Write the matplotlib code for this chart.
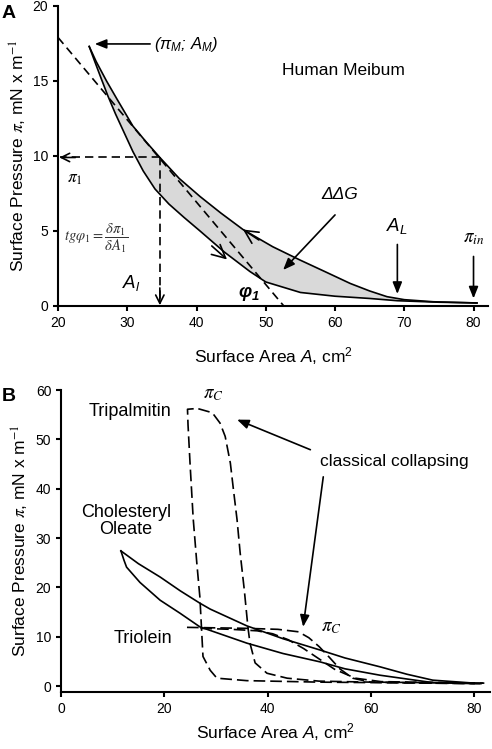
import matplotlib
matplotlib.use("Agg")
import matplotlib.pyplot as plt

plt.rcParams['font.family'] = ['Liberation Sans', 'DejaVu Sans']
plt.rcParams['mathtext.fontset'] = 'custom'
plt.rcParams['mathtext.rm'] = 'Liberation Sans'
plt.rcParams['mathtext.it'] = 'Liberation Sans:italic'
plt.rcParams['mathtext.bf'] = 'Liberation Sans:bold'
plt.rcParams['mathtext.bfit'] = 'Liberation Sans:italic:bold'

# panel A - human meibum isotherm (compression / expansion loop)
meib_lower_A = [24.5, 25.3, 26.2, 27.2, 28.3, 29.5, 30.8, 32.3, 34.0, 36.0, 38.2, 40.5,
                44.0, 47.7, 50.0, 55.0, 60.0, 65.0, 69.0, 75.0, 80.5]
meib_lower_pi = [17.3, 16.3, 15.2, 14.0, 12.8, 11.6, 10.3, 9.0, 7.8, 6.8, 5.9, 5.0,
                 3.6, 2.3, 1.6, 0.9, 0.65, 0.5, 0.35, 0.25, 0.2]
meib_upper_A = [24.5, 25.5, 27.0, 28.5, 30.8, 32.7, 34.7, 37.5, 40.5, 43.5, 46.7, 51.0, 55.0,
                58.5, 62.2, 65.0, 67.5, 70.0, 74.2, 80.5]
meib_upper_pi = [17.3, 16.3, 15.0, 13.8, 12.0, 10.95, 9.9, 8.5, 7.3, 6.2, 5.1, 3.95, 3.05,
                 2.3, 1.5, 1.0, 0.62, 0.42, 0.28, 0.2]
tangent_A = [20.0, 52.6]
tangent_pi = [17.9, 0.0]
A1, pi1 = 34.7, 9.9
A_L, A_in = 69.0, 80.0

# panel B - pure lipids
tripalm1_A = [25.7, 24.5, 24.6, 25.0, 25.6, 26.3, 26.9, 27.3, 27.5, 28.9, 30.2, 36.0, 50.0, 82.0]
tripalm1_pi = [56.2, 56.1, 53.0, 45.0, 34.0, 25.0, 18.0, 10.0, 6.0, 3.2, 1.6, 1.1, 0.8, 0.5]
tripalm2_A = [26.6, 29.3, 30.8, 31.8, 32.8, 33.4, 34.1, 34.7, 35.5, 36.2, 36.6, 37.6, 39.9,
              43.8, 50.0, 60.0, 82.0]
tripalm2_pi = [56.2, 55.4, 53.3, 50.6, 45.2, 39.8, 33.7, 27.0, 19.5, 12.0, 8.7, 4.7, 2.6,
               1.6, 1.0, 0.8, 0.6]
triolein1_A = [24.4, 30.0, 36.0, 42.0, 46.0, 48.0, 50.0, 52.0, 54.0, 56.5, 60.0, 70.0, 82.0]
triolein1_pi = [11.9, 11.8, 11.7, 11.5, 11.0, 9.8, 8.0, 5.8, 3.5, 1.6, 0.8, 0.6, 0.5]
triolein2_A = [27.0, 33.0, 38.0, 41.0, 44.0, 47.0, 50.0, 53.0, 57.0, 62.0, 82.0]
triolein2_pi = [11.7, 11.5, 11.2, 10.6, 9.4, 7.6, 5.5, 3.4, 1.6, 0.9, 0.6]
chol_upper_A = [11.6, 15.0, 19.2, 23.1, 26.9, 28.9, 36.0, 43.0, 50.2, 55.0, 61.8, 67.0, 72.0, 80.0]
chol_upper_pi = [27.4, 24.8, 22.1, 19.3, 16.8, 15.6, 12.2, 9.6, 7.3, 5.7, 3.9, 2.4, 1.2, 0.6]
chol_lower_A = [11.6, 12.2, 12.7, 15.3, 19.2, 23.0, 26.9, 36.0, 43.0, 50.2, 55.0, 61.8, 72.0, 80.0]
chol_lower_pi = [27.4, 25.5, 24.1, 21.0, 17.4, 14.8, 12.0, 8.7, 6.6, 4.9, 3.5, 2.2, 0.7, 0.5]

LW = 1.2
dashA = (0, (5, 3))
dashB = (0, (7, 3))
ylab = r'Surface Pressure $\pi$, mN x m$^{-1}$'
xlab = r'Surface Area $A$, cm$^2$'

fig = plt.figure(figsize=(4.92, 7.49), dpi=100)


def style_axes(ax):
    for s in ['top', 'right']:
        ax.spines[s].set_visible(False)
    for s in ['left', 'bottom']:
        ax.spines[s].set_linewidth(1.5)
    ax.tick_params(direction='out', length=3.5, width=1.5, labelsize=10)


def vee(ax, xy, xytext, size=0.6):
    ax.annotate('', xy=xy, xytext=xytext,
                arrowprops=dict(arrowstyle=f'->,head_length={size},head_width={size / 2}',
                                lw=LW, color='black', shrinkA=0, shrinkB=0))


def solid_arrow(ax, xy, xytext):
    ax.annotate('', xy=xy, xytext=xytext,
                arrowprops=dict(arrowstyle='-|>,head_length=0.7,head_width=0.28', lw=LW,
                                color='black', shrinkA=0, shrinkB=0))


# ---------------- panel A ----------------
ax = fig.add_axes([0.118, 0.5915, 0.874, 0.4005])
style_axes(ax)
ax.set_xlim(20, 82.1)
ax.set_ylim(0, 20)
ax.set_xticks(range(20, 81, 10))
ax.set_yticks(range(0, 21, 5))

ax.fill(meib_upper_A + meib_lower_A[::-1], meib_upper_pi + meib_lower_pi[::-1],
        color='#d9d9d9', lw=0, zorder=1)
ax.plot(meib_upper_A, meib_upper_pi, color='black', lw=LW, zorder=3)
ax.plot(meib_lower_A, meib_lower_pi, color='black', lw=LW, zorder=3)
ax.plot(tangent_A, tangent_pi, color='black', lw=LW, ls=dashA, zorder=3)
ax.plot([A1, 20.3], [pi1, pi1], color='black', lw=LW, ls=dashA, zorder=3)
ax.plot([A1, A1], [pi1, 0.1], color='black', lw=LW, ls=dashA, zorder=3)
vee(ax, (20.2, pi1), (22.5, pi1))
vee(ax, (A1, 0.05), (A1, 1.2))

# direction chevrons on the loop
vee(ax, (46.7, 5.1), (49.0, 4.4), size=0.95)
vee(ax, (44.4, 3.1), (42.2, 4.0), size=0.95)

solid_arrow(ax, (25.3, 17.47), (33.3, 17.47))
ax.text(33.8, 17.45, r'($\pi_M$; $A_M$)', fontsize=12, fontstyle='italic',
        va='center', ha='left')
ax.text(61.2, 15.7, 'Human Meibum', fontsize=12.5, ha='center', va='center')
ax.text(21.3, 8.4, r'$\pi_1$', fontsize=12.5, math_fontfamily='stix', va='center')
ax.text(20.9, 4.5, r'$tg\varphi_1 = \dfrac{\delta\pi_1}{\delta A_1}$', fontsize=10.5,
        math_fontfamily='stix', color='#333333', va='center')
ax.text(30.6, 1.5, r'$A_l$', fontsize=13.5, va='center', ha='center')
ax.text(47.6, 0.8, r'$\mathbfit{\varphi_1}$', fontsize=13.5, va='center', ha='center')
ax.text(60.7, 7.4, 'ΔΔG', fontsize=12.5, fontstyle='italic', va='center', ha='center')
solid_arrow(ax, (52.5, 2.4), (60.0, 6.07))
ax.text(A_L, 5.3, r'$A_L$', fontsize=13.5, va='center', ha='center')
solid_arrow(ax, (A_L, 0.8), (A_L, 4.1))
ax.text(A_in, 4.5, r'$\pi_{in}$', fontsize=13.5, math_fontfamily='stix', va='center',
        ha='center')
solid_arrow(ax, (A_in, 0.5), (A_in, 3.3))

ax.set_ylabel(ylab, fontsize=12.5, math_fontfamily='stix', labelpad=3)
ax.set_xlabel(xlab, fontsize=12.5, labelpad=11)
fig.text(0.004, 0.993, 'A', fontsize=14, fontweight='bold', va='top', ha='left')

# ---------------- panel B ----------------
bx = fig.add_axes([0.124, 0.0761, 0.872, 0.4032])
style_axes(bx)
bx.set_xlim(0, 83.1)
bx.set_ylim(-1.2, 60)
bx.set_xticks(range(0, 81, 20))
bx.set_yticks(range(0, 61, 10))

for xs, ys in [(tripalm1_A, tripalm1_pi), (tripalm2_A, tripalm2_pi),
               (triolein1_A, triolein1_pi), (triolein2_A, triolein2_pi)]:
    bx.plot(xs, ys, color='black', lw=LW, ls=dashB)
bx.plot(chol_upper_A, chol_upper_pi, color='black', lw=LW)
bx.plot(chol_lower_A, chol_lower_pi, color='black', lw=LW)

bx.text(13.4, 55.6, 'Tripalmitin', fontsize=13, ha='center', va='center')
bx.text(12.6, 33.5, 'Cholesteryl\nOleate', fontsize=13, ha='center', va='center',
        linespacing=1.0)
bx.text(15.9, 9.7, 'Triolein', fontsize=13, ha='center', va='center')
bx.text(29.5, 59.0, r'$\pi_C$', fontsize=13.5, math_fontfamily='stix', ha='center',
        va='center')
bx.text(52.3, 11.8, r'$\pi_C$', fontsize=13.5, math_fontfamily='stix', ha='center',
        va='center')
bx.text(64.5, 45.6, 'classical collapsing', fontsize=12.5, ha='center', va='center')
solid_arrow(bx, (34.1, 54.0), (48.3, 47.9))
solid_arrow(bx, (46.9, 12.0), (50.8, 42.4))

bx.set_ylabel(ylab, fontsize=12.5, math_fontfamily='stix', labelpad=3)
bx.set_xlabel(xlab, fontsize=12.5, labelpad=4)
fig.text(0.004, 0.482, 'B', fontsize=14, fontweight='bold', va='top', ha='left')

fig.savefig('out.png', dpi=100)
